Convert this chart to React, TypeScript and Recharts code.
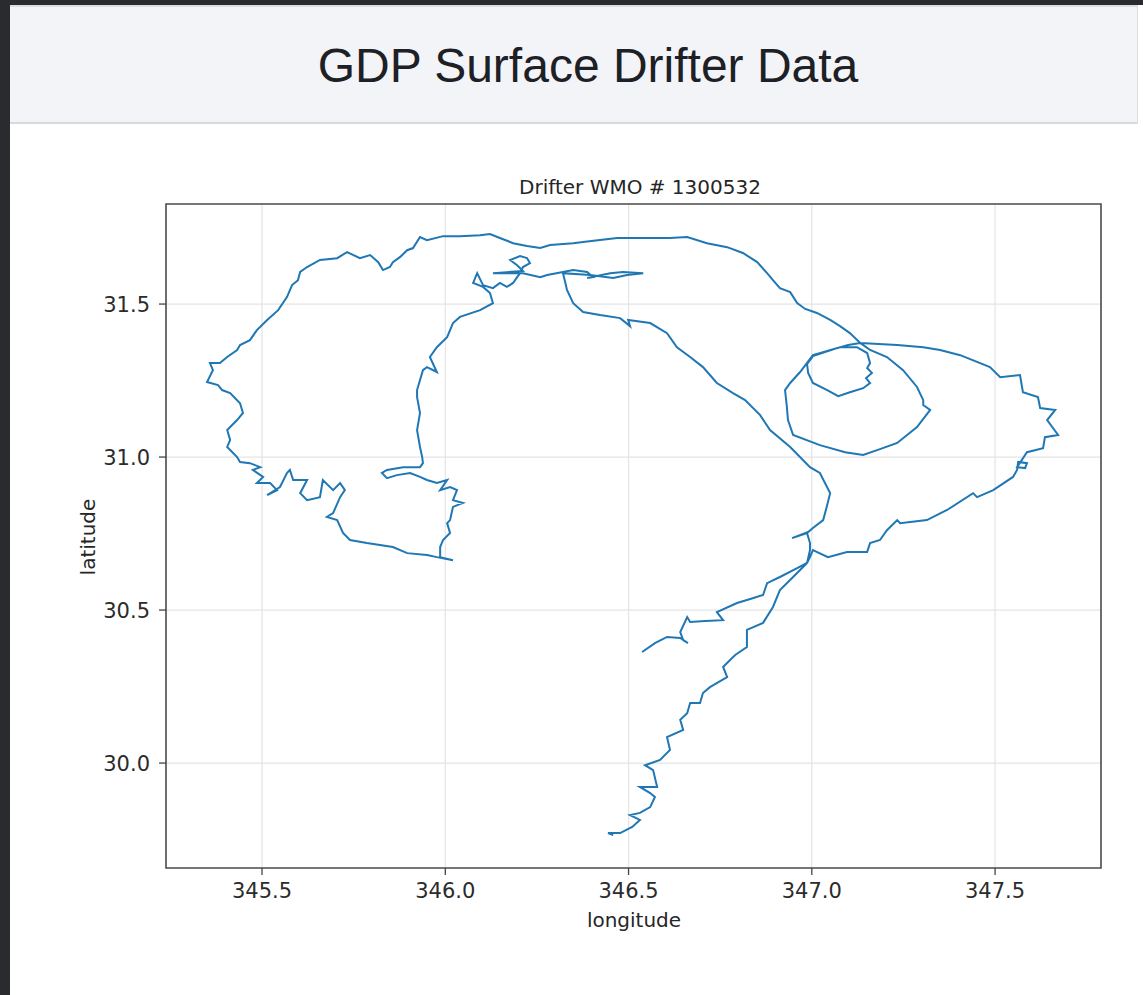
import React from 'react';
import { LineChart, Line, XAxis, YAxis, CartesianGrid, ReferenceArea } from 'recharts';

// Drifter track, as [longitude, latitude] pairs, in track order.
const trackSouthWestArm: [number, number][] = [
  [346.537, 30.363], [346.572, 30.392], [346.605, 30.412], [346.641, 30.409], [346.662, 30.392],
  [346.649, 30.402], [346.641, 30.428], [346.660, 30.477], [346.668, 30.461], [346.709, 30.464],
  [346.758, 30.467], [346.741, 30.493], [346.796, 30.523], [346.832, 30.536], [346.867, 30.549],
  [346.878, 30.588], [346.913, 30.608], [346.960, 30.637], [346.987, 30.654], [346.995, 30.673],
];

const trackEastLoop: [number, number][] = [
  [347.003, 30.696], [347.044, 30.673], [347.096, 30.690], [347.151, 30.690], [347.159, 30.719],
  [347.186, 30.729], [347.205, 30.761], [347.233, 30.794], [347.241, 30.784], [347.314, 30.794],
  [347.369, 30.827], [347.440, 30.882], [347.451, 30.869], [347.495, 30.892], [347.549, 30.935],
  [347.560, 30.958], [347.563, 30.984], [347.587, 30.980], [347.582, 30.964], [347.560, 30.967],
  [347.587, 31.016], [347.631, 31.029], [347.636, 31.065], [347.672, 31.072], [347.642, 31.121],
  [347.664, 31.154], [347.623, 31.160], [347.617, 31.196], [347.576, 31.212], [347.568, 31.268],
  [347.514, 31.261], [347.486, 31.294], [347.405, 31.333], [347.350, 31.350], [347.304, 31.359],
  [347.233, 31.366], [347.132, 31.373],
];

const trackEddyLoops: [number, number][] = [
  [347.099, 31.366], [347.069, 31.356], [347.003, 31.330], [346.987, 31.304], [346.990, 31.275],
  [347.003, 31.242], [347.042, 31.219], [347.072, 31.199], [347.104, 31.212], [347.140, 31.225],
  [347.159, 31.242], [347.148, 31.258], [347.164, 31.275], [347.151, 31.291], [347.159, 31.307],
  [347.151, 31.340], [347.123, 31.359], [347.077, 31.359], [347.003, 31.333], [346.968, 31.278],
  [346.941, 31.242], [346.927, 31.219], [346.932, 31.163], [346.935, 31.121], [346.949, 31.072],
  [347.022, 31.039], [347.091, 31.016], [347.140, 31.007], [347.186, 31.026], [347.233, 31.046],
  [347.287, 31.098], [347.323, 31.154], [347.304, 31.170], [347.304, 31.186], [347.287, 31.229],
  [347.249, 31.284], [347.205, 31.327], [347.159, 31.350], [347.132, 31.373],
];

const trackNorthArc: [number, number][] = [
  [347.104, 31.405], [347.077, 31.428], [347.050, 31.448], [347.014, 31.471], [346.982, 31.484],
  [346.960, 31.503], [346.941, 31.539], [346.913, 31.552], [346.894, 31.578], [346.878, 31.601],
  [346.851, 31.637], [346.812, 31.667], [346.769, 31.686], [346.714, 31.699], [346.660, 31.719],
  [346.613, 31.716], [346.559, 31.716], [346.469, 31.716], [346.422, 31.709], [346.376, 31.703],
  [346.349, 31.699], [346.286, 31.693], [346.259, 31.683], [346.223, 31.690], [346.185, 31.699],
  [346.149, 31.716], [346.122, 31.729], [346.095, 31.725], [346.040, 31.722], [345.994, 31.722],
  [345.950, 31.709], [345.931, 31.719], [345.912, 31.683], [345.896, 31.676], [345.877, 31.654],
  [345.857, 31.637], [345.849, 31.621], [345.830, 31.611], [345.817, 31.637], [345.795, 31.660],
  [345.767, 31.650], [345.732, 31.670], [345.705, 31.650], [345.658, 31.644], [345.623, 31.621],
  [345.604, 31.605], [345.598, 31.578], [345.582, 31.562], [345.568, 31.523], [345.544, 31.480],
  [345.514, 31.448], [345.486, 31.415], [345.467, 31.382], [345.440, 31.366], [345.432, 31.350],
  [345.405, 31.327], [345.385, 31.307], [345.358, 31.307], [345.366, 31.284], [345.350, 31.245],
  [345.380, 31.235], [345.391, 31.219], [345.413, 31.209], [345.440, 31.176], [345.448, 31.144],
  [345.432, 31.121], [345.413, 31.098], [345.405, 31.088], [345.413, 31.056], [345.405, 31.033],
  [345.432, 31.000], [345.440, 30.984], [345.467, 30.980], [345.495, 30.967], [345.475, 30.958],
  [345.503, 30.935], [345.486, 30.915], [345.522, 30.915], [345.541, 30.892], [345.514, 30.876],
  [345.549, 30.902], [345.568, 30.948], [345.576, 30.958], [345.585, 30.925], [345.623, 30.925],
  [345.604, 30.882], [345.623, 30.859], [345.658, 30.869], [345.666, 30.925], [345.694, 30.892],
  [345.713, 30.915], [345.726, 30.892], [345.713, 30.869], [345.694, 30.817], [345.677, 30.804],
  [345.705, 30.794], [345.721, 30.752], [345.740, 30.729], [345.786, 30.719], [345.857, 30.706],
  [345.896, 30.686], [345.950, 30.680], [345.977, 30.673], [346.021, 30.663], [345.986, 30.673],
];

const trackWestReturn: [number, number][] = [
  [345.986, 30.706], [345.994, 30.729], [346.013, 30.752], [346.005, 30.784], [346.013, 30.794],
  [346.021, 30.837], [346.048, 30.850], [346.021, 30.859], [346.032, 30.892], [346.013, 30.902],
  [345.986, 30.892], [346.005, 30.925], [345.977, 30.915], [345.950, 30.925], [345.931, 30.935],
  [345.904, 30.948], [345.868, 30.941], [345.841, 30.931], [345.827, 30.948], [345.841, 30.958],
  [345.885, 30.967], [345.931, 30.967], [345.939, 30.980], [345.937, 31.000], [345.931, 31.033],
  [345.923, 31.088], [345.931, 31.144], [345.923, 31.196], [345.923, 31.219], [345.939, 31.284],
  [345.950, 31.294], [345.977, 31.278], [345.958, 31.327], [345.977, 31.359], [346.005, 31.392],
  [346.021, 31.438], [346.040, 31.458], [346.095, 31.480], [346.130, 31.503], [346.122, 31.536],
  [346.103, 31.556], [346.076, 31.569], [346.087, 31.601], [346.103, 31.562], [346.130, 31.552],
  [346.149, 31.569], [346.168, 31.556], [346.185, 31.569], [346.196, 31.588], [346.204, 31.601],
  [346.212, 31.621], [346.231, 31.634], [346.223, 31.650], [346.204, 31.657], [346.177, 31.644],
  [346.196, 31.627], [346.212, 31.608], [346.130, 31.601], [346.212, 31.601], [346.259, 31.588],
  [346.278, 31.595], [346.321, 31.605], [346.349, 31.611], [346.387, 31.605], [346.403, 31.588],
  [346.387, 31.585], [346.450, 31.601], [346.485, 31.605], [346.540, 31.601], [346.496, 31.595],
  [346.458, 31.585], [346.395, 31.595], [346.321, 31.601],
];

const trackCentralArm: [number, number][] = [
  [346.327, 31.572], [346.332, 31.546], [346.349, 31.503], [346.376, 31.474], [346.422, 31.464],
  [346.477, 31.454], [346.504, 31.428], [346.499, 31.448], [346.559, 31.438], [346.605, 31.405],
  [346.632, 31.359], [346.668, 31.327], [346.703, 31.294], [346.741, 31.242], [346.785, 31.209],
  [346.818, 31.186], [346.859, 31.137], [346.886, 31.088], [346.941, 31.033], [346.995, 30.967],
  [347.022, 30.948], [347.050, 30.882], [347.042, 30.843], [347.031, 30.794], [347.003, 30.768],
  [346.990, 30.755], [346.946, 30.735], [346.987, 30.752], [346.995, 30.719], [346.995, 30.696],
];

const trackSouthArm: [number, number][] = [
  [346.987, 30.654], [346.968, 30.631], [346.949, 30.608], [346.913, 30.565], [346.894, 30.510],
  [346.867, 30.458], [346.823, 30.435], [346.823, 30.379], [346.791, 30.353], [346.777, 30.337],
  [346.758, 30.314], [346.769, 30.281], [346.722, 30.248], [346.703, 30.229], [346.695, 30.196],
  [346.668, 30.196], [346.660, 30.163], [346.641, 30.141], [346.649, 30.108], [346.605, 30.085],
  [346.613, 30.043], [346.586, 30.010], [346.545, 29.993], [346.567, 29.977], [346.578, 29.922],
  [346.531, 29.922], [346.559, 29.902], [346.572, 29.889], [346.559, 29.856], [346.531, 29.837],
  [346.504, 29.830], [346.531, 29.814], [346.510, 29.791], [346.477, 29.771], [346.444, 29.771],
  [346.458, 29.765],
];

const X_TICKS = [345.5, 346.0, 346.5, 347.0, 347.5];
const Y_TICKS = [30.0, 30.5, 31.0, 31.5];
const X_DOMAIN: [number, number] = [345.238, 347.789];
const Y_DOMAIN: [number, number] = [29.657, 31.827];

const PAGE_TITLE = 'GDP Surface Drifter Data';
const CHART_TITLE = 'Drifter WMO # 1300532';
const X_LABEL = 'longitude';
const Y_LABEL = 'latitude';

const track = [
  ...trackSouthWestArm,
  ...trackEastLoop,
  ...trackEddyLoops,
  ...trackNorthArc,
  ...trackWestReturn,
  ...trackCentralArm,
  ...trackSouthArm,
].map(([lon, lat]) => ({ lon, lat }));

const MPL_FONT = '"DejaVu Sans", sans-serif';
const fmt = (v: number) => v.toFixed(1);

export default function App() {
  return (
    <div
      style={{
        position: 'absolute',
        left: 0,
        top: 0,
        width: 1143,
        height: 995,
        background: '#ffffff',
        overflow: 'hidden',
      }}
    >
      {/* dark frame */}
      <div style={{ position: 'absolute', left: 0, top: 0, width: 1143, height: 5, background: '#2a2b2e' }} />
      <div style={{ position: 'absolute', left: 0, top: 0, width: 10, height: 995, background: '#2a2b2e' }} />
      {/* header band */}
      <div
        style={{
          position: 'absolute',
          left: 10,
          top: 5,
          width: 1127,
          height: 115,
          background: '#f3f4f8',
          borderTop: '2px solid #dcdde2',
          borderBottom: '2px solid #d9dade',
          borderRight: '1px solid #dcdde2',
        }}
      />
      <div
        style={{
          position: 'absolute',
          left: 188,
          top: 39,
          width: 800,
          textAlign: 'center',
          fontFamily: '"Liberation Sans", Arial, sans-serif',
          fontSize: 48,
          lineHeight: '54px',
          color: '#1d2024',
          whiteSpace: 'nowrap',
        }}
      >
        {PAGE_TITLE}
      </div>

      {/* chart title */}
      <div
        style={{
          position: 'absolute',
          left: 340,
          top: 175,
          width: 600,
          textAlign: 'center',
          fontFamily: MPL_FONT,
          fontSize: 20,
          lineHeight: '24px',
          color: '#262626',
          whiteSpace: 'nowrap',
        }}
      >
        {CHART_TITLE}
      </div>

      <div style={{ position: 'absolute', left: 0, top: 122 }}>
        <LineChart
          width={1143}
          height={873}
          data={track}
          margin={{ top: 82, right: 42, bottom: 87, left: 0 }}
        >
          <CartesianGrid stroke="#e4e4e4" strokeWidth={1.2} verticalValues={X_TICKS} horizontalValues={Y_TICKS} />
          <XAxis
            dataKey="lon"
            type="number"
            domain={X_DOMAIN}
            ticks={X_TICKS}
            allowDataOverflow
            tickFormatter={fmt}
            height={40}
            tickSize={7}
            tickMargin={8}
            axisLine={false}
            tickLine={{ stroke: '#444', strokeWidth: 1.3 }}
            tick={{ fill: '#2b2b2b', fontSize: 21, fontFamily: MPL_FONT }}
          />
          <YAxis
            type="number"
            domain={Y_DOMAIN}
            ticks={Y_TICKS}
            allowDataOverflow
            tickFormatter={fmt}
            width={166}
            tickSize={7}
            tickMargin={9}
            axisLine={false}
            tickLine={{ stroke: '#444', strokeWidth: 1.3 }}
            tick={{ fill: '#2b2b2b', fontSize: 21, fontFamily: MPL_FONT }}
          />
          <ReferenceArea
            x1={X_DOMAIN[0]}
            x2={X_DOMAIN[1]}
            y1={Y_DOMAIN[0]}
            y2={Y_DOMAIN[1]}
            fill="none"
            stroke="#4a4a4a"
            strokeWidth={1.6}
            ifOverflow="visible"
          />
          <Line
            dataKey="lat"
            type="linear"
            stroke="#1f77b4"
            strokeWidth={2}
            dot={false}
            activeDot={false}
            isAnimationActive={false}
          />
        </LineChart>
      </div>

      {/* axis labels */}
      <div
        style={{
          position: 'absolute',
          left: 434,
          top: 908,
          width: 400,
          textAlign: 'center',
          fontFamily: MPL_FONT,
          fontSize: 20,
          lineHeight: '24px',
          color: '#262626',
        }}
      >
        {X_LABEL}
      </div>
      <div
        style={{
          position: 'absolute',
          left: 88 - 100,
          top: 537 - 12,
          width: 200,
          textAlign: 'center',
          fontFamily: MPL_FONT,
          fontSize: 20,
          lineHeight: '24px',
          color: '#262626',
          transform: 'rotate(-90deg)',
        }}
      >
        {Y_LABEL}
      </div>
    </div>
  );
}
